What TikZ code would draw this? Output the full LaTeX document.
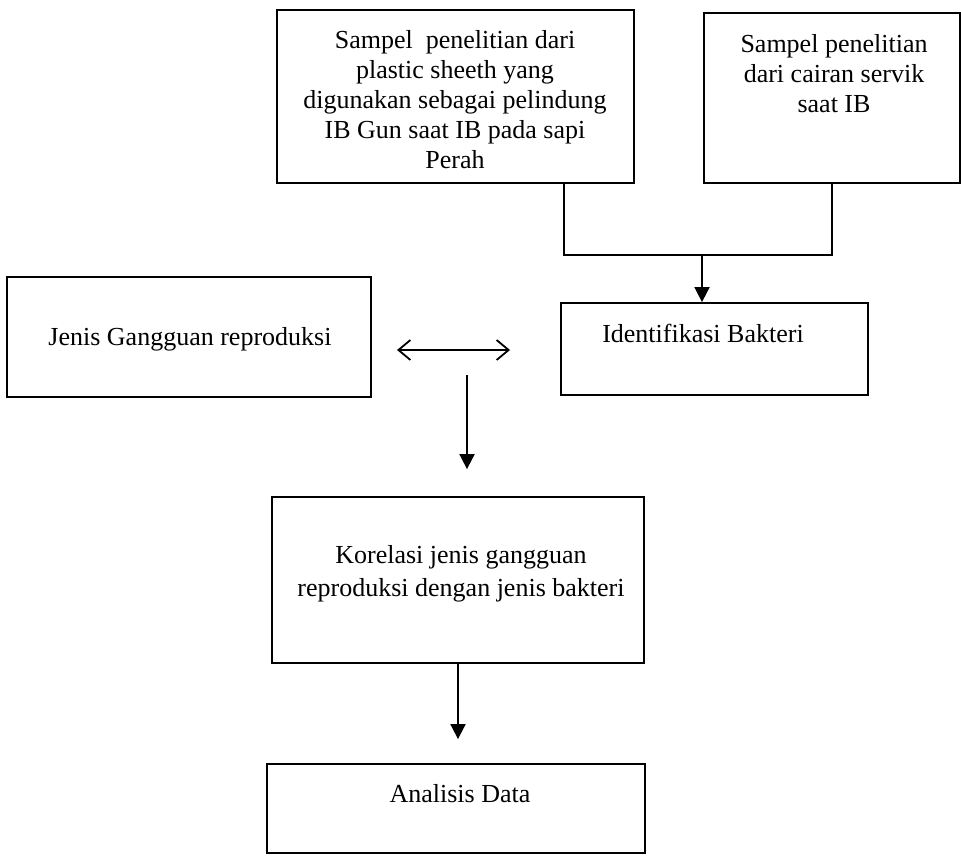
\documentclass[tikz,border=0pt]{standalone}
\usepackage{fontspec}
\setmainfont{Liberation Serif}
\usetikzlibrary{arrows.meta}

\begin{document}
\begin{tikzpicture}[x=0.5pt,y=-0.5pt,line width=0.9pt,
  box/.style={draw,rectangle,inner sep=0pt},
  txt/.style={anchor=north,align=center,inner sep=0pt,font=\fontsize{13}{15}\selectfont},
  arr/.style={-{Triangle[length=7.5pt,width=7.5pt]}},
  dbl/.style={{Straight Barb[length=6pt,width=10pt]}-{Straight Barb[length=6pt,width=10pt]}}]
\useasboundingbox(0,0)rectangle(961,860);
\node[box,minimum width=178.5pt,minimum height=86.5pt](plastik)at(455.5,96.5){};
\node[txt](plastiktxt)at(455,30){Sampel~ penelitian dari\\plastic sheeth yang\\digunakan sebagai pelindung\\IB Gun saat IB pada sapi\\Perah};
\node[box,minimum width=128pt,minimum height=85pt](cairan)at(832,98){};
\node[txt](cairantxt)at(834,34){Sampel penelitian\\dari cairan servik\\saat IB};
\node[box,minimum width=153.5pt,minimum height=46pt](identifikasi)at(714.5,349){};
\node[txt](identifikasitxt)at(703,323){Identifikasi Bakteri};
\node[box,minimum width=182pt,minimum height=60pt](jenis)at(189,337){};
\node[txt](jenistxt)at(190,327){Jenis Gangguan reproduksi};
\node[box,minimum width=186pt,minimum height=83pt](korelasi)at(458,580){};
\node[txt](korelasitxt)at(461,545){Korelasi jenis gangguan\\[1.5pt]reproduksi dengan jenis bakteri};
\node[box,minimum width=189pt,minimum height=44.5pt](analisis)at(456,808.5){};
\node[txt](analisistxt)at(460,784){Analisis Data};
\coordinate(gabung)at(702,255);
\coordinate(kiri)at(397,350);
\coordinate(kanan)at(510,350);
\coordinate(tengah)at(467,375);
\draw([xshift=-35.5pt]plastik.south east)|-(gabung)-|(cairan.south);
\draw[arr](gabung)--(gabung|-identifikasi.north);
\draw[dbl](kiri)--(kanan);
\draw[arr,shorten >=13.5pt](tengah)--(tengah|-korelasi.north);
\draw[arr,shorten >=12pt](korelasi.south)--(korelasi.south|-analisis.north);
\end{tikzpicture}
\end{document}
